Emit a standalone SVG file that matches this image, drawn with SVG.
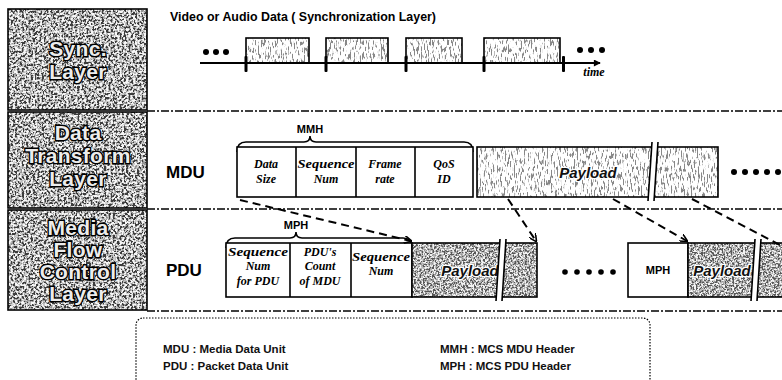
<svg xmlns="http://www.w3.org/2000/svg" width="782" height="380" viewBox="0 0 782 380">
<style>
.lay{font-family:"Liberation Sans",Arial,sans-serif;font-weight:bold;font-size:21px;fill:#ececec;stroke:#000;stroke-width:2.8;paint-order:stroke;text-anchor:middle;letter-spacing:0.3px}
.lbl{font-family:"Liberation Sans",Arial,sans-serif;font-weight:bold;fill:#000}
.cell{font-family:"Liberation Serif","Times New Roman",serif;font-weight:bold;font-style:italic;font-size:12px;fill:#000;text-anchor:middle}
.pay{font-family:"Liberation Sans",Arial,sans-serif;font-weight:bold;font-style:italic;font-size:15px;fill:#111;stroke:#fff;stroke-width:2.5;paint-order:stroke;text-anchor:middle}
.box{fill:#fff;stroke:#000;stroke-width:1.6}
.edge{fill:none;stroke:#000;stroke-width:1.6}
.sep{fill:none;stroke:#000;stroke-width:1.4;stroke-dasharray:8 2 2 2}
.conn{fill:none;stroke:#000;stroke-width:2;stroke-dasharray:8 5}
.leg{font-family:"Liberation Sans",Arial,sans-serif;font-size:11.5px;font-weight:bold;fill:#111}
</style>
<defs>
<filter id="grain" x="0" y="0" width="1" height="1">
<feTurbulence type="fractalNoise" baseFrequency="0.45" numOctaves="3" seed="4"/>
<feColorMatrix type="matrix" values="1 0 0 0 0 1 0 0 0 0 1 0 0 0 0 0 0 0 0 1"/>
<feComponentTransfer><feFuncR type="linear" slope="3.5" intercept="-1.25"/><feFuncG type="linear" slope="3.5" intercept="-1.25"/><feFuncB type="linear" slope="3.5" intercept="-1.25"/></feComponentTransfer>
<feComponentTransfer><feFuncR type="discrete" tableValues="0.05 0.3 0.5 0.65 0.92"/><feFuncG type="discrete" tableValues="0.05 0.3 0.5 0.65 0.92"/><feFuncB type="discrete" tableValues="0.05 0.3 0.5 0.65 0.92"/></feComponentTransfer>
</filter>
<filter id="dark" x="0" y="0" width="1" height="1">
<feTurbulence type="fractalNoise" baseFrequency="0.55" numOctaves="3" seed="9"/>
<feColorMatrix type="matrix" values="1 0 0 0 0 1 0 0 0 0 1 0 0 0 0 0 0 0 0 1"/>
<feComponentTransfer><feFuncR type="linear" slope="3.5" intercept="-1.25"/><feFuncG type="linear" slope="3.5" intercept="-1.25"/><feFuncB type="linear" slope="3.5" intercept="-1.25"/></feComponentTransfer>
<feComponentTransfer><feFuncR type="discrete" tableValues="0.1 0.3 0.45 0.6 0.9"/><feFuncG type="discrete" tableValues="0.1 0.3 0.45 0.6 0.9"/><feFuncB type="discrete" tableValues="0.1 0.3 0.45 0.6 0.9"/></feComponentTransfer>
</filter>
<filter id="streak" x="0" y="0" width="1" height="1">
<feTurbulence type="fractalNoise" baseFrequency="0.7 0.15" numOctaves="2" seed="7"/>
<feColorMatrix type="matrix" values="1 0 0 0 0 1 0 0 0 0 1 0 0 0 0 0 0 0 0 1"/>
<feComponentTransfer><feFuncR type="linear" slope="3" intercept="-1"/><feFuncG type="linear" slope="3" intercept="-1"/><feFuncB type="linear" slope="3" intercept="-1"/></feComponentTransfer>
<feComponentTransfer><feFuncR type="discrete" tableValues="1 1 1 1 1 0.85 0.5 0.25"/><feFuncG type="discrete" tableValues="1 1 1 1 1 0.85 0.5 0.25"/><feFuncB type="discrete" tableValues="1 1 1 1 1 0.85 0.5 0.25"/></feComponentTransfer>
</filter>
<marker id="ah" viewBox="0 0 8 8" refX="7" refY="4" markerWidth="8" markerHeight="8" markerUnits="userSpaceOnUse" orient="auto">
<path d="M0,0 L8,4 L0,8" fill="none" stroke="#000" stroke-width="1.6"/>
</marker>
<marker id="ta" viewBox="0 0 8 8" refX="7" refY="4" markerWidth="8" markerHeight="7" markerUnits="userSpaceOnUse" orient="auto">
<path d="M0,0 L8,4 L0,8 Z" fill="#000"/>
</marker>
</defs>
<rect width="782" height="380" fill="#fff"/>

<g id="layer-sync">
<rect x="8" y="9" width="139" height="101" fill="#888" filter="url(#grain)"/>
<rect x="8" y="9" width="139" height="101" class="edge" stroke-width="2"/>
<text class="lay" x="78" y="56">Sync.</text>
<text class="lay" x="78" y="79">Layer</text>
</g>
<g id="layer-data">
<rect x="8" y="112" width="139" height="96" fill="#888" filter="url(#grain)"/>
<rect x="8" y="112" width="139" height="96" class="edge" stroke-width="2"/>
<text class="lay" x="78" y="140">Data</text>
<text class="lay" x="78" y="163">Transform</text>
<text class="lay" x="78" y="186">Layer</text>
</g>
<g id="layer-media">
<rect x="8" y="210" width="139" height="100" fill="#888" filter="url(#grain)"/>
<rect x="8" y="210" width="139" height="100" class="edge" stroke-width="2"/>
<text class="lay" x="78" y="235">Media</text>
<text class="lay" x="78" y="257">Flow</text>
<text class="lay" x="78" y="279">Control</text>
<text class="lay" x="78" y="301">Layer</text>
</g>

<g id="separators">
<line class="sep" x1="147" y1="111" x2="782" y2="111"/>
<line class="sep" x1="147" y1="209" x2="782" y2="209"/>
<line class="sep" x1="147" y1="311" x2="782" y2="311"/>
</g>

<g id="sync-timeline">
<text class="lbl" x="170" y="21" font-size="12.5" textLength="266" lengthAdjust="spacingAndGlyphs">Video or Audio Data ( Synchronization Layer)</text>
<circle cx="206" cy="52" r="3"/><circle cx="216" cy="52" r="3"/><circle cx="226" cy="52" r="3"/>
<rect x="246" y="38" width="63" height="25" fill="#fff" filter="url(#streak)"/>
<rect x="246" y="38" width="63" height="25" class="edge"/>
<rect x="326" y="38" width="62" height="25" fill="#fff" filter="url(#streak)"/>
<rect x="326" y="38" width="62" height="25" class="edge"/>
<rect x="406" y="38" width="56" height="25" fill="#fff" filter="url(#streak)"/>
<rect x="406" y="38" width="56" height="25" class="edge"/>
<rect x="484" y="38" width="76" height="25" fill="#fff" filter="url(#streak)"/>
<rect x="484" y="38" width="76" height="25" class="edge"/>
<line x1="200" y1="63" x2="600" y2="63" stroke="#000" stroke-width="2.2" marker-end="url(#ta)"/>
<rect x="244.5" y="56" width="3" height="16" rx="1"/>
<rect x="324.5" y="56" width="3" height="16" rx="1"/>
<rect x="404.5" y="56" width="3" height="16" rx="1"/>
<rect x="482.5" y="56" width="3" height="16" rx="1"/>
<rect x="562" y="56" width="3" height="16" rx="1"/>
<circle cx="580" cy="50" r="3"/><circle cx="591" cy="50" r="3"/><circle cx="602" cy="50" r="3"/>
<text class="cell" x="594" y="76" font-size="11">time</text>
</g>

<g id="mdu">
<text class="lbl" x="166" y="178" font-size="17">MDU</text>
<text class="lbl" x="310" y="133" font-size="11" text-anchor="middle">MMH</text>
<path class="edge" d="M237,152 Q237,142 246,142 L304,142 Q310,142 310,136 Q310,142 316,142 L464,142 Q473,142 473,152"/>
<rect class="box" x="237" y="147" width="236" height="50"/>
<line class="edge" x1="296" y1="147" x2="296" y2="197"/>
<line class="edge" x1="356" y1="147" x2="356" y2="197"/>
<line class="edge" x1="415" y1="147" x2="415" y2="197"/>
<text class="cell" x="266" y="168">Data</text><text class="cell" x="266" y="183">Size</text>
<text class="cell" x="326" y="168" textLength="57" lengthAdjust="spacingAndGlyphs">Sequence</text><text class="cell" x="326" y="183">Num</text>
<text class="cell" x="385" y="168">Frame</text><text class="cell" x="385" y="183">rate</text>
<text class="cell" x="444" y="168">QoS</text><text class="cell" x="444" y="183">ID</text>
<rect x="477" y="147" width="241" height="50" fill="#fff" filter="url(#streak)"/>
<rect x="477" y="147" width="241" height="50" class="edge"/>
<text class="pay" x="588" y="178">Payload</text>
<polygon points="648,201 652,142 658,142 654,201" fill="#fff"/>
<line class="edge" x1="648" y1="201" x2="652" y2="142"/>
<line class="edge" x1="654" y1="201" x2="658" y2="142"/>
<circle cx="734" cy="172" r="3"/><circle cx="745" cy="172" r="3"/><circle cx="756" cy="172" r="3"/><circle cx="767" cy="172" r="3"/><circle cx="778" cy="172" r="3"/>
</g>

<g id="pdu">
<text class="lbl" x="166" y="276" font-size="17">PDU</text>
<text class="lbl" x="296" y="229" font-size="11" text-anchor="middle">MPH</text>
<path class="edge" d="M226,248 Q226,238 235,238 L290,238 Q296,238 296,232 Q296,238 302,238 L403,238 Q412,238 412,248"/>
<rect class="box" x="226" y="243" width="186" height="54"/>
<line class="edge" x1="290" y1="243" x2="290" y2="297"/>
<line class="edge" x1="351" y1="243" x2="351" y2="297"/>
<text class="cell" x="258" y="256" textLength="60" lengthAdjust="spacingAndGlyphs">Sequence</text><text class="cell" x="258" y="270">Num</text><text class="cell" x="258" y="285">for PDU</text>
<text class="cell" x="320" y="256">PDU's</text><text class="cell" x="320" y="270">Count</text><text class="cell" x="320" y="285">of MDU</text>
<text class="cell" x="381" y="261" textLength="58" lengthAdjust="spacingAndGlyphs">Sequence</text><text class="cell" x="381" y="275">Num</text>
<rect x="412" y="243" width="125" height="54" fill="#555" filter="url(#dark)"/>
<rect x="412" y="243" width="125" height="54" class="edge"/>
<text class="pay" x="470" y="276">Payload</text>
<polygon points="496,301 500,239 506,239 502,301" fill="#fff"/>
<line class="edge" x1="496" y1="301" x2="500" y2="239"/>
<line class="edge" x1="502" y1="301" x2="506" y2="239"/>
<circle cx="565" cy="272" r="2.8"/><circle cx="577" cy="272" r="2.8"/><circle cx="589" cy="272" r="2.8"/><circle cx="601" cy="272" r="2.8"/><circle cx="613" cy="272" r="2.8"/>
<rect class="box" x="628" y="243" width="60" height="54"/>
<text class="lbl" x="658" y="274" font-size="11" text-anchor="middle">MPH</text>
<rect x="688" y="243" width="96" height="54" fill="#555" filter="url(#dark)"/>
<rect x="688" y="243" width="96" height="54" class="edge"/>
<text class="pay" x="722" y="276">Payload</text>
<polygon points="751,301 755,239 761,239 757,301" fill="#fff"/>
<line class="edge" x1="751" y1="301" x2="755" y2="239"/>
<line class="edge" x1="757" y1="301" x2="761" y2="239"/>
</g>

<g id="connectors">
<line class="conn" x1="240" y1="200" x2="411" y2="241" marker-end="url(#ah)"/>
<line class="conn" x1="508" y1="199" x2="536" y2="241" marker-end="url(#ah)"/>
<line class="conn" x1="613" y1="199" x2="687" y2="241" marker-end="url(#ah)"/>
<line class="conn" x1="692" y1="199" x2="782" y2="246"/>
</g>

<g id="legend">
<rect x="136" y="318" width="514" height="80" rx="7" fill="none" stroke="#000" stroke-width="1.2" stroke-dasharray="1.5 1.5"/>
<text class="leg" x="163" y="353">MDU : Media Data Unit</text>
<text class="leg" x="163" y="370">PDU : Packet Data Unit</text>
<text class="leg" x="440" y="353">MMH : MCS MDU Header</text>
<text class="leg" x="440" y="370">MPH : MCS PDU Header</text>
</g>
</svg>
